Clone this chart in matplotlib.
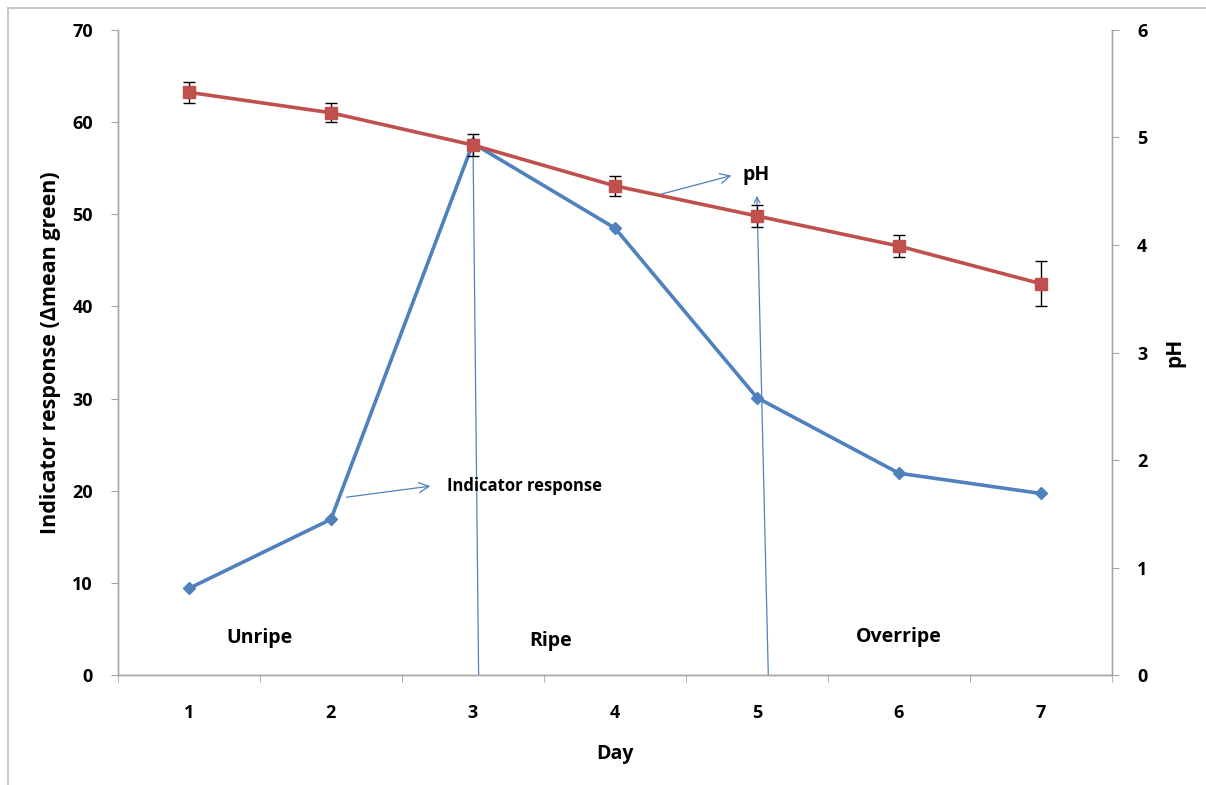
import matplotlib
matplotlib.use("Agg")
import matplotlib.pyplot as plt
from matplotlib.lines import Line2D

plt.rcParams['font.family'] = ['Open Sans', 'DejaVu Sans']

days = [1, 2, 3, 4, 5, 6, 7]
indicator = [9.4, 16.9, 57.7, 48.5, 30.1, 21.9, 19.7]
ph = [5.42, 5.23, 4.93, 4.55, 4.27, 3.99, 3.64]
ph_err = [0.10, 0.09, 0.10, 0.09, 0.10, 0.10, 0.21]
stage_labels = ["Unripe", "Ripe", "Overripe"]
stage_x = [1.5, 3.55, 6.0]
stage_y = [4.0, 3.7, 4.1]

blue = '#4F81BD'
red = '#C0504D'
grey = '#A6A6A6'

fig = plt.figure(figsize=(12.06, 7.85), dpi=100)
ax = fig.add_axes([0.0978, 0.1401, 0.8242, 0.8217])
ax2 = ax.twinx()

ax.set_xlim(0.5, 7.5)
ax.set_ylim(0, 70)
ax2.set_ylim(0, 6)

ax.plot(days, indicator, color=blue, lw=2.6, marker='D', ms=6.5,
        markerfacecolor=blue, markeredgecolor=blue, zorder=3)
ax2.errorbar(days, ph, yerr=ph_err, color=red, lw=2.6, marker='s', ms=9,
             ecolor='black', elinewidth=1.0, capsize=4, capthick=1.0, zorder=3)

for a in (ax, ax2):
    a.spines['top'].set_visible(False)
    for s in ('left', 'right', 'bottom'):
        a.spines[s].set_color(grey)
        a.spines[s].set_linewidth(1.0)

ax.set_yticks(range(0, 71, 10))
ax2.set_yticks(range(0, 7))
ax.set_xticks(days)
ax.set_xticks([0.5 + i for i in range(8)], minor=True)
ax.tick_params(axis='x', which='major', length=0, pad=21)
ax.tick_params(axis='x', which='minor', length=5, color=grey, direction='out')
ax.tick_params(axis='y', length=5, color=grey, direction='out', pad=13)
ax2.tick_params(axis='y', length=5, color=grey, direction='out', pad=13)

for lbl in ax.get_xticklabels() + ax.get_yticklabels() + ax2.get_yticklabels():
    lbl.set_fontsize(13)
    lbl.set_fontweight('bold')

ax.set_xlabel('Day', fontsize=14, fontweight='bold', labelpad=16)
ax.set_ylabel('Indicator response (\u0394mean green)', fontsize=15.5,
              fontweight='bold', labelpad=8)
ax2.set_ylabel('pH', fontsize=15, fontweight='bold', labelpad=12)

ax.annotate('', xy=(3.0, 58.5), xytext=(3.04, 0),
            arrowprops=dict(arrowstyle='->', color=blue, lw=0.9,
                            shrinkA=0, shrinkB=0), zorder=2)
ax.annotate('', xy=(5.0, 52.0), xytext=(5.08, 0),
            arrowprops=dict(arrowstyle='->', color=blue, lw=0.9,
                            shrinkA=0, shrinkB=0), zorder=2)

ax.annotate('', xy=(2.7, 20.5), xytext=(2.11, 19.3),
            arrowprops=dict(arrowstyle='->', color=blue, lw=0.9,
                            mutation_scale=18, shrinkA=0, shrinkB=0))
ax.text(2.82, 20.5, 'Indicator response', fontsize=12, fontweight='bold',
        va='center', ha='left')
ax.annotate('', xy=(4.82, 54.2), xytext=(4.33, 52.2),
            arrowprops=dict(arrowstyle='->', color=blue, lw=0.9,
                            mutation_scale=18, shrinkA=0, shrinkB=0))
ax.text(4.9, 54.3, 'pH', fontsize=14, fontweight='bold',
        va='center', ha='left')

for lab, x, y in zip(stage_labels, stage_x, stage_y):
    ax.text(x, y, lab, fontsize=14, fontweight='bold', ha='center', va='center')

fig.add_artist(Line2D([8/1206, 8/1206], [0, 1 - 8/785], transform=fig.transFigure,
                      color='#BFBFBF', lw=1.2))
fig.add_artist(Line2D([8/1206, 1], [1 - 8/785, 1 - 8/785], transform=fig.transFigure,
                      color='#BFBFBF', lw=1.2))

fig.savefig('out.png', dpi=100)
